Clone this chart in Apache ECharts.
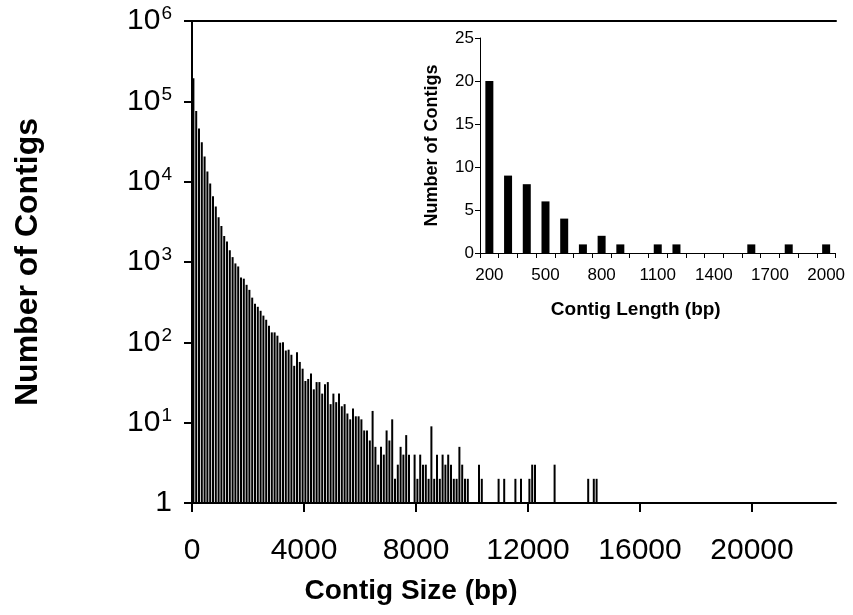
<!DOCTYPE html>
<html>
<head>
<meta charset="utf-8">
<script src="https://cdn.jsdelivr.net/npm/echarts@6/dist/echarts.min.js"></script>
<style>
html,body{margin:0;padding:0;background:#fff;}
#chart{width:853px;height:615px;}
</style>
</head>
<body>
<div id="chart"></div>
<script>
// Main histogram: contig counts per 100 bp bin, starting at 0 bp
const binWidth = 100;
const mainCounts = [
  194000, 76000, 46000, 31000, 20500, 13400, 9500, 6600, 4900, 3600,
  2800, 2100, 1800, 1400, 1150, 960, 880, 640, 620, 520,
  450, 360, 302, 277, 247, 215, 191, 161, 133, 133,
  121, 99, 100, 79, 81, 70, 51, 75, 57, 47,
  33, 35, 41, 26, 32, 32, 23, 30, 32, 17,
  23, 18, 23, 16, 17, 13, 11, 15, 12, 12,
  11, 8, 8, 6, 14, 5, 3, 5, 4, 8,
  6, 11, 2, 3, 5, 4, 7, 4, 0, 4,
  2, 4, 3, 3, 2, 9, 2, 4, 2, 4,
  3, 4, 3, 2, 2, 5, 3, 2, 2, 0,
  0, 0, 3, 2, 0, 0, 0, 0, 0, 2,
  0, 2, 0, 0, 0, 2, 0, 2, 0, 0,
  2, 3, 3, 0, 0, 0, 0, 0, 0, 3,
  0, 0, 0, 0, 0, 0, 0, 0, 0, 0,
  0, 2, 0, 2, 2
];
const mainXTicks = [0, 4000, 8000, 12000, 16000, 20000];

// Inset
const insetCategories = ['200','300','400','500','600','700','800','900','1000','1100','1200','1300','1400','1500','1600','1700','1800','1900','2000'];
const insetValues = [20, 9, 8, 6, 4, 1, 2, 1, 0, 1, 1, 0, 0, 0, 1, 0, 1, 0, 1];

const mainData = [];
mainCounts.forEach((c, i) => { if (c >= 1) mainData.push([i * binWidth + binWidth / 2, c]); });

const FONT = 'Liberation Sans, Arial, sans-serif';
const chart = echarts.init(document.getElementById('chart'));
chart.setOption({
  backgroundColor: '#fff',
  animation: false,
  grid: [
    {left: 192, right: 17, top: 21, bottom: 112},
    {left: 480, top: 38, width: 355.5, height: 215}
  ],
  xAxis: [
    {
      gridIndex: 0, type: 'value', min: 0, max: 23000,
      axisLine: {lineStyle: {color: '#000', width: 2}},
      axisTick: {length: 9, lineStyle: {color: '#000', width: 2}, customValues: mainXTicks},
      axisLabel: {fontSize: 30, color: '#000', margin: 33, fontFamily: FONT, customValues: mainXTicks,
        formatter: function (v) { return String(v); }},
      splitLine: {show: false},
      name: 'Contig Size (bp)', nameLocation: 'middle', nameGap: 74,
      nameTextStyle: {fontSize: 28, fontWeight: 'bold', color: '#000', fontFamily: FONT, padding: [0, 206, 0, 0]}
    },
    {
      gridIndex: 0, type: 'value', min: 0, max: 23000, position: 'top',
      axisLine: {show: true, lineStyle: {color: '#000', width: 2}},
      axisTick: {show: false}, axisLabel: {show: false}, splitLine: {show: false}
    },
    {
      gridIndex: 1, type: 'category', data: insetCategories, boundaryGap: true,
      axisLine: {lineStyle: {color: '#000', width: 1}},
      axisTick: {show: true, interval: 0, length: 5, lineStyle: {color: '#000'}},
      axisLabel: {interval: 2, fontSize: 17, color: '#000', margin: 14, fontFamily: FONT},
      name: 'Contig Length (bp)', nameLocation: 'middle', nameGap: 47,
      nameTextStyle: {fontSize: 19, fontWeight: 'bold', color: '#000', fontFamily: FONT, padding: [0, 44, 0, 0]}
    }
  ],
  yAxis: [
    {
      gridIndex: 0, type: 'log', logBase: 10, min: 1, max: 1000000,
      axisLine: {show: true, lineStyle: {color: '#000', width: 2}},
      axisTick: {show: true, length: 8, lineStyle: {color: '#000', width: 2}},
      minorTick: {show: false},
      splitLine: {show: false},
      axisLabel: {
        margin: 20, color: '#000', fontFamily: FONT,
        formatter: function (v) {
          const p = Math.round(Math.log10(v));
          return p === 0 ? '{a|1}' : '{a|10}{b|' + p + '}';
        },
        rich: {
          a: {fontSize: 30, fontFamily: FONT, color: '#000'},
          b: {fontSize: 19, fontFamily: FONT, color: '#000', verticalAlign: 'top', padding: [0, 0, 14, 1]}
        }
      },
      name: 'Number of Contigs', nameLocation: 'middle', nameGap: 148,
      nameTextStyle: {fontSize: 32, fontWeight: 'bold', color: '#000', fontFamily: FONT}
    },
    {
      gridIndex: 1, type: 'value', min: 0, max: 25, interval: 5,
      axisLine: {show: true, lineStyle: {color: '#000', width: 1}},
      axisTick: {show: true, length: 5, lineStyle: {color: '#000'}},
      splitLine: {show: false},
      axisLabel: {fontSize: 17, color: '#000', margin: 6, fontFamily: FONT},
      name: 'Number of Contigs', nameLocation: 'middle', nameGap: 39,
      nameTextStyle: {fontSize: 18, fontWeight: 'bold', color: '#000', fontFamily: FONT}
    }
  ],
  series: [
    {
      type: 'bar', xAxisIndex: 0, yAxisIndex: 0, data: mainData,
      barWidth: 2, itemStyle: {color: '#000'}, silent: true
    },
    {
      type: 'bar', xAxisIndex: 2, yAxisIndex: 1, data: insetValues,
      barWidth: 8, itemStyle: {color: '#000'}, silent: true
    }
  ]
});
</script>
</body>
</html>
